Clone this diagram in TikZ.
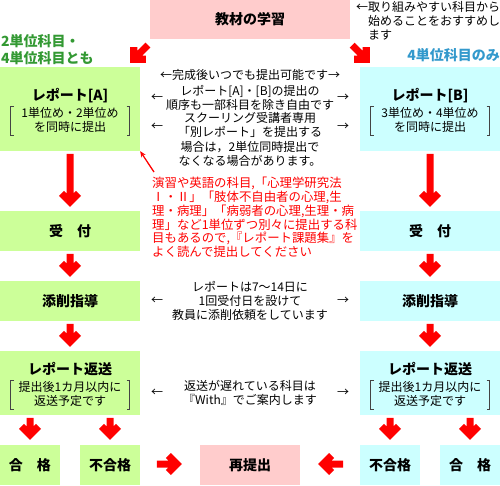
\documentclass[tikz,border=0pt]{standalone}
\usepackage{fontspec}
\setmainfont{Noto Sans CJK JP}
\usetikzlibrary{calc,arrows.meta}
\definecolor{boxgreen}{HTML}{CCFF99}
\definecolor{boxcyan}{HTML}{CCFFFF}
\definecolor{boxpink}{HTML}{FFCCCC}
\definecolor{arrowred}{HTML}{FF0000}
\definecolor{labgreen}{HTML}{339933}
\definecolor{labblue}{HTML}{3399CC}
\definecolor{brk}{HTML}{444444}
% tip, angle, length
\newcommand\bigarrow[3]{%
  \fill[arrowred,shift={#1},rotate=#2] (0,0) -- (-11,11) -- (-16,6) -- (-13.5,3.5) -- (-#3,3.5) -- (-#3,-3.5) -- (-13.5,-3.5) -- (-16,-6) -- (-11,-11) -- cycle;}
\begin{document}
\begin{tikzpicture}[x=1pt,y=-1pt,
  flowbox/.style={inner sep=0pt, draw=none, font=\bfseries\fontsize{14}{16}\selectfont},
  title/.style={inner sep=0pt, font=\bfseries\fontsize{14}{16}\selectfont},
  txt/.style={inner sep=0pt, align=center, font=\fontsize{12}{14}\selectfont},
  note/.style={inner sep=0pt, align=left, font=\fontsize{12}{14}\selectfont},
  bracket/.style={draw=brk, line width=0.9pt},
  sidearrow/.style={inner sep=0pt, font=\fontsize{12}{14}\selectfont}
]
\useasboundingbox (0,0) rectangle (500,485);

% boxes
\node[flowbox, fill=boxpink, minimum width=200pt, minimum height=39pt] (study) at (250,19.5) {教材の学習};
\node[flowbox, fill=boxgreen, minimum width=140pt, minimum height=84pt] (A) at (70,109) {};
\node[flowbox, fill=boxcyan, minimum width=140pt, minimum height=84pt] (B) at (430,109) {};
\node[flowbox, fill=boxgreen, minimum width=140pt, minimum height=40pt] (U1) at (70,231) {受　付};
\node[flowbox, fill=boxcyan, minimum width=140pt, minimum height=40pt] (U2) at (430,231) {受　付};
\node[flowbox, fill=boxgreen, minimum width=140pt, minimum height=40pt] (T1) at (70,301) {添削指導};
\node[flowbox, fill=boxcyan, minimum width=140pt, minimum height=40pt] (T2) at (430,301) {添削指導};
\node[flowbox, fill=boxgreen, minimum width=140pt, minimum height=64pt] (R1) at (70,383) {};
\node[flowbox, fill=boxcyan, minimum width=140pt, minimum height=64pt] (R2) at (430,383) {};
\node[flowbox, fill=boxgreen, minimum width=60pt, minimum height=40pt] (P1) at (30,465) {合　格};
\node[flowbox, fill=boxgreen, minimum width=60pt, minimum height=40pt] (F1) at (110,465) {不合格};
\node[flowbox, fill=boxpink, minimum width=100pt, minimum height=40pt] (RS) at (250,465) {再提出};
\node[flowbox, fill=boxcyan, minimum width=60pt, minimum height=40pt] (F2) at (390,465) {不合格};
\node[flowbox, fill=boxcyan, minimum width=60pt, minimum height=40pt] (P2) at (470,465) {合　格};

% box contents
\node[title] (Atitle) at (70,96) {レポート[A]};
\node[txt] (Atext) at (70,120) {1単位め・2単位め\\を同時に提出};
\draw[bracket] (13.5,106) -- (10.5,106) -- (10.5,135) -- (13.5,135);
\draw[bracket] (126.5,106) -- (129.5,106) -- (129.5,135) -- (126.5,135);
\node[title] (Btitle) at (430,96) {レポート[B]};
\node[txt] (Btext) at (430,120) {3単位め・4単位め\\を同時に提出};
\draw[bracket] (373.5,106) -- (370.5,106) -- (370.5,135) -- (373.5,135);
\draw[bracket] (486.5,106) -- (489.5,106) -- (489.5,135) -- (486.5,135);
\node[title] (R1title) at (70,369) {レポート返送};
\node[txt] (R1text) at (70,394) {提出後1カ月以内に\\返送予定です};
\draw[bracket] (13.5,380) -- (10.5,380) -- (10.5,409) -- (13.5,409);
\draw[bracket] (126.5,380) -- (129.5,380) -- (129.5,409) -- (126.5,409);
\node[title] (R2title) at (430,369) {レポート返送};
\node[txt] (R2text) at (430,394) {提出後1カ月以内に\\返送予定です};
\draw[bracket] (373.5,380) -- (370.5,380) -- (370.5,409) -- (373.5,409);
\draw[bracket] (486.5,380) -- (489.5,380) -- (489.5,409) -- (486.5,409);

% side labels
\node[inner sep=0pt, align=left, anchor=west, text=labgreen, font=\bfseries\fontsize{14}{17}\selectfont] (lab2) at (1,50) {2単位科目・\\4単位科目とも};
\node[inner sep=0pt, anchor=east, text=labblue, font=\bfseries\fontsize{14}{16}\selectfont] (lab4) at (500,55) {4単位科目のみ};
\node[note, anchor=west] (advice) at (356,21) {←取り組みやすい科目から\\\phantom{←}始めることをおすすめし\\\phantom{←}ます};

% middle explanations
\node[txt] (m1) at (250,75) {←完成後いつでも提出可能です→};
\node[txt] (m2) at (250,97.5) {レポート[A]・[B]の提出の\\順序も一部科目を除き自由です};
\node[sidearrow] (m2l) at (157,97.5) {←};
\node[sidearrow] (m2r) at (343,97.5) {→};
\node[txt, font=\fontsize{12}{14.3}\selectfont] (m3) at (250,139.5) {スクーリング受講者専用\\「別レポート」を提出する\\場合は，2単位同時提出で\\なくなる場合があります。};
\node[sidearrow] (m3l) at (157,126.5) {←};
\node[sidearrow] (m3r) at (343,126.5) {→};
\node[note, text=arrowred, anchor=west, font=\fontsize{12.4}{13.8}\selectfont] (red) at (152,217.5) {演習や英語の科目,「心理学研究法\\Ⅰ・Ⅱ」「肢体不自由者の心理,生\\理・病理」「病弱者の心理,生理・病\\理」など1単位ずつ別々に提出する科\\目もあるので,『レポート課題集』を\\よく読んで提出してください};
\coordinate (redtail) at (154,172);
\draw[arrowred, line width=1.3pt, -{Stealth[length=6pt,width=5pt]}] (redtail) -- (A.south east);
\node[txt] (m4) at (250,301) {レポートは7～14日に\\1回受付日を設けて\\教員に添削依頼をしています};
\node[sidearrow] (m4l) at (157,301) {←};
\node[sidearrow] (m4r) at (343,301) {→};
\node[txt] (m5) at (250,393) {返送が遅れている科目は\\『With』でご案内します};
\node[sidearrow] (m5l) at (157,393) {←};
\node[sidearrow] (m5r) at (343,393) {→};

% big red arrows
\bigarrow{($(A.north east)+(-10,-4)$)}{-135}{25}
\bigarrow{($(B.north west)+(10,-4)$)}{-45}{25}
\bigarrow{($(U1.north)+(0,-4)$)}{-90}{53}
\bigarrow{($(U2.north)+(0,-4)$)}{-90}{53}
\bigarrow{($(T1.north)+(0,-4)$)}{-90}{23}
\bigarrow{($(T2.north)+(0,-4)$)}{-90}{23}
\bigarrow{($(R1.north)+(0,-4)$)}{-90}{23}
\bigarrow{($(R2.north)+(0,-4)$)}{-90}{23}
\bigarrow{($(P1.north)+(0,-5)$)}{-90}{22}
\bigarrow{($(F1.north)+(0,-5)$)}{-90}{22}
\bigarrow{($(F2.north)+(0,-5)$)}{-90}{22}
\bigarrow{($(P2.north)+(0,-5)$)}{-90}{22}
\bigarrow{($(RS.west)+(-18,-1)$)}{0}{25}
\bigarrow{($(RS.east)+(18,-1)$)}{180}{25}
\end{tikzpicture}
\end{document}
